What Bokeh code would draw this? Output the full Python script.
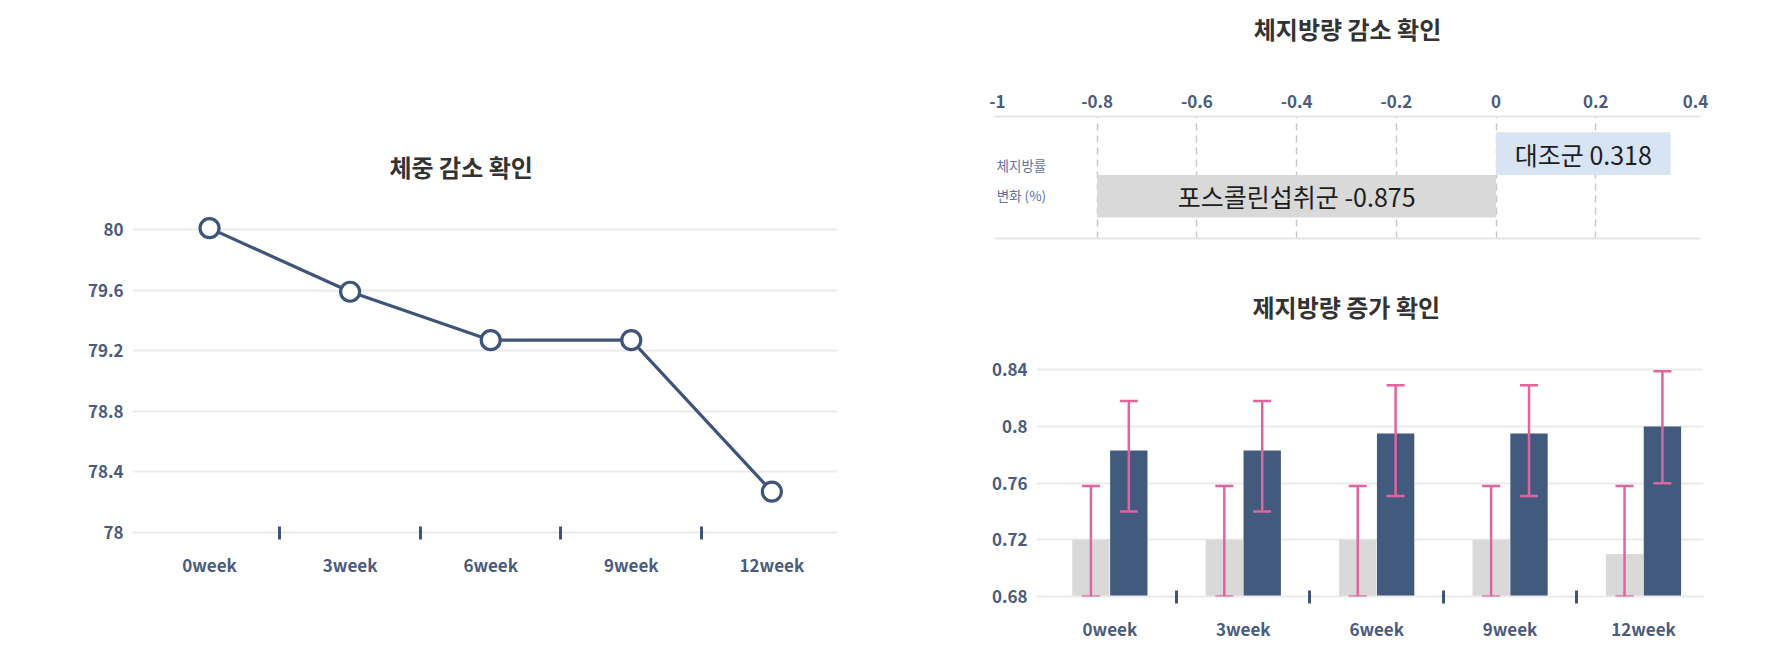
from bokeh.plotting import figure
from bokeh.layouts import row, column
from bokeh.models import (ColumnDataSource, FixedTicker, LinearAxis, Whisker, TeeHead, Label)
from bokeh.core.properties import value
from bokeh.embed import file_html
from bokeh.resources import INLINE

# ---------------- data ----------------
weeks = ["0week", "3week", "6week", "9week", "12week"]
body_weight = [80.01, 79.59, 79.27, 79.27, 78.27]
weight_ticks = [78, 78.4, 78.8, 79.2, 79.6, 80]
weight_tick_labels = ["78", "78.4", "78.8", "79.2", "79.6", "80"]

fat_groups = ["포스콜린섭취군", "대조군"]
fat_change = [-0.875, 0.318]          # values printed on the bars
fat_bar_end = [-0.8, 0.35]            # bar ends as drawn in the picture
fat_ticks = [-1, -0.8, -0.6, -0.4, -0.2, 0, 0.2, 0.4]
fat_tick_labels = ["-1", "-0.8", "-0.6", "-0.4", "-0.2", "0", "0.2", "0.4"]
fat_grid_ticks = [-0.8, -0.6, -0.4, -0.2, 0, 0.2]

lean_gray = [0.72, 0.72, 0.72, 0.72, 0.71]
lean_gray_low = [0.68, 0.68, 0.68, 0.68, 0.68]
lean_gray_high = [0.758, 0.758, 0.758, 0.758, 0.758]
lean_blue = [0.783, 0.783, 0.795, 0.795, 0.800]
lean_blue_low = [0.740, 0.740, 0.751, 0.751, 0.760]
lean_blue_high = [0.818, 0.818, 0.829, 0.829, 0.839]
lean_ticks = [0.68, 0.72, 0.76, 0.8, 0.84]
lean_tick_labels = ["0.68", "0.72", "0.76", "0.8", "0.84"]

# ---------------- style ----------------
FONT = "Noto Sans CJK KR"
LABEL_C = "#4a5b7c"
GRID_C = "#ebebeb"
NAVY = "#3e5478"
BAR_NAVY = "#425a7e"
GRAY = "#d9d9d9"
LIGHT_BLUE = "#d6e4f4"
PINK = "#e0649d"
TITLE_C = "#333333"
TITLE_SIZE = "24px"
TICK_SIZE = "17px"

idx = list(range(len(weeks)))
between = [i + 0.5 for i in idx[:-1]]


def style_title(p, text, standoff, offset):
    p.title.text = text
    p.title.text_font = FONT
    p.title.text_font_size = TITLE_SIZE
    p.title.text_font_style = "bold"
    p.title.text_color = TITLE_C
    p.title.align = "left"
    p.title.standoff = standoff
    p.title.offset = offset


def style_week_xaxis(p):
    ax = p.xaxis[0]
    ax.ticker = FixedTicker(ticks=idx, minor_ticks=between)
    ax.major_label_overrides = {i: w for i, w in zip(idx, weeks)}
    ax.major_tick_line_color = None
    ax.major_tick_in = 0
    ax.major_tick_out = 0
    ax.minor_tick_line_color = NAVY
    ax.minor_tick_line_width = 3
    ax.minor_tick_in = 6
    ax.minor_tick_out = 7
    ax.axis_line_color = GRID_C
    ax.axis_line_width = 2
    ax.major_label_text_font = FONT
    ax.major_label_text_font_size = TICK_SIZE
    ax.major_label_text_font_style = "bold"
    ax.major_label_text_color = LABEL_C
    ax.major_label_standoff = 12
    p.xgrid.visible = False


def style_yaxis(p, ticks, labels):
    ax = p.yaxis[0]
    ax.ticker = FixedTicker(ticks=ticks)
    ax.major_label_overrides = {t: l for t, l in zip(ticks, labels)}
    ax.axis_line_color = None
    ax.major_tick_line_color = None
    ax.minor_tick_line_color = None
    ax.major_tick_in = 0
    ax.major_tick_out = 0
    ax.major_label_text_font = FONT
    ax.major_label_text_font_size = TICK_SIZE
    ax.major_label_text_font_style = "bold"
    ax.major_label_text_color = LABEL_C
    ax.major_label_standoff = 9
    p.ygrid.grid_line_color = GRID_C
    p.ygrid.grid_line_width = 2


# ---------------- left: 체중 감소 확인 ----------------
left = figure(width=940, height=662, x_range=(-0.548, 4.467), y_range=(78, 80.12),
              output_backend="svg", toolbar_location=None,
              min_border_left=132, min_border_right=103,
              min_border_top=211, min_border_bottom=130)
left.outline_line_color = None
style_title(left, "체중 감소 확인", standoff=56, offset=257)
style_week_xaxis(left)
style_yaxis(left, weight_ticks, weight_tick_labels)
wsrc = ColumnDataSource(dict(x=idx, y=body_weight))
left.line("x", "y", source=wsrc, line_color=NAVY, line_width=3.2)
left.scatter("x", "y", source=wsrc, size=19, fill_color="white",
             line_color=NAVY, line_width=3.2)

# ---------------- right top: 체지방량 감소 확인 ----------------
top = figure(width=825, height=262, x_range=(-1.006, 0.41), y_range=(-0.99, 1.87),
             output_backend="svg", toolbar_location=None, x_axis_location="above",
             min_border_left=54, min_border_right=65,
             min_border_top=116, min_border_bottom=24)
top.outline_line_color = None
top.yaxis.visible = False
top.ygrid.visible = False
ax = top.xaxis[0]
ax.ticker = FixedTicker(ticks=fat_ticks)
ax.major_label_overrides = {t: l for t, l in zip(fat_ticks, fat_tick_labels)}
ax.major_tick_line_color = None
ax.minor_tick_line_color = None
ax.major_tick_in = 0
ax.major_tick_out = 0
ax.axis_line_color = "#e6e6e6"
ax.axis_line_width = 2
ax.major_label_text_font = FONT
ax.major_label_text_font_size = TICK_SIZE
ax.major_label_text_font_style = "bold"
ax.major_label_text_color = LABEL_C
ax.major_label_standoff = 9
ax.axis_label = "체지방량 감소 확인"
ax.axis_label_text_font = FONT
ax.axis_label_text_font_size = TITLE_SIZE
ax.axis_label_text_font_style = "bold"
ax.axis_label_text_color = TITLE_C
ax.axis_label_standoff = 46
bottom_line = LinearAxis(major_label_text_font_size="0px", major_tick_line_color=None,
                         minor_tick_line_color=None, major_tick_in=0, major_tick_out=0,
                         axis_line_color="#e6e6e6", axis_line_width=2,
                         ticker=FixedTicker(ticks=[]))
top.add_layout(bottom_line, "below")
top.xgrid.ticker = FixedTicker(ticks=fat_grid_ticks)
top.xgrid.grid_line_color = "#c8c8c8"
top.xgrid.grid_line_width = 1.5
top.xgrid.grid_line_dash = "7 5"

fat_y = list(range(len(fat_groups)))
fat_colors = [GRAY, LIGHT_BLUE]
fsrc = ColumnDataSource(dict(
    y=fat_y,
    left=[min(0, v) for v in fat_bar_end],
    right=[max(0, v) for v in fat_bar_end],
    mid=[v / 2 for v in fat_bar_end],
    color=fat_colors,
    text=[f"{g} {v}" for g, v in zip(fat_groups, fat_change)],
))
top.hbar(y="y", left="left", right="right", height=1.0, fill_color="color",
         line_color=None, source=fsrc)
top.text(x="mid", y="y", text="text", source=fsrc, text_align="center",
         text_baseline="middle", text_font=value(FONT), text_font_size="25px",
         text_color="#1e1e1e")
top.add_layout(Label(x=-0.952, y=0.38, text="체지방률\n변화 (%)", text_align="center",
                     text_baseline="middle", text_font=FONT, text_font_size="13.5px",
                     text_color="#62719a", text_line_height=1.5))

# ---------------- right bottom: 제지방량 증가 확인 ----------------
bot = figure(width=825, height=400, x_range=(-0.55, 4.45), y_range=(0.68, 0.855),
             output_backend="svg", toolbar_location=None,
             min_border_left=96, min_border_right=62,
             min_border_top=84, min_border_bottom=66)
bot.outline_line_color = None
style_title(bot, "제지방량 증가 확인", standoff=49, offset=216)
style_week_xaxis(bot)
style_yaxis(bot, lean_ticks, lean_tick_labels)

off = 0.142
lsrc = ColumnDataSource(dict(
    xa=[i - off for i in idx], xb=[i + off for i in idx],
    a=lean_gray, a_lo=lean_gray_low, a_hi=lean_gray_high,
    b=lean_blue, b_lo=lean_blue_low, b_hi=lean_blue_high,
))
bot.vbar(x="xa", top="a", bottom=lean_ticks[0], width=0.28, fill_color=GRAY,
         line_color=None, source=lsrc)
bot.vbar(x="xb", top="b", bottom=lean_ticks[0], width=0.28, fill_color=BAR_NAVY,
         line_color=None, source=lsrc)
for base, lo, hi in (("xa", "a_lo", "a_hi"), ("xb", "b_lo", "b_hi")):
    w = Whisker(source=lsrc, base=base, lower=lo, upper=hi, dimension="height",
                line_color=PINK, line_width=2.5, level="annotation",
                upper_head=TeeHead(size=18, line_color=PINK, line_width=2.5),
                lower_head=TeeHead(size=18, line_color=PINK, line_width=2.5))
    bot.add_layout(w)

layout = row(left, column(row(top), row(bot), spacing=0), spacing=0)
open("out.html", "w").write(file_html(layout, INLINE))
